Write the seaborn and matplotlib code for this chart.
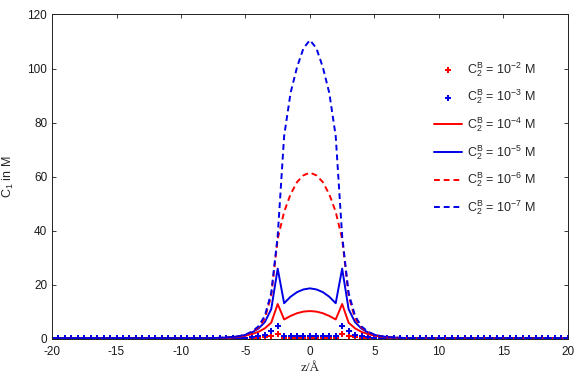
import numpy as np
import matplotlib
matplotlib.use('Agg')
import matplotlib.pyplot as plt
import seaborn as sns

# z grid in Angstrom, -20 .. 20 in steps of 0.5
z = np.arange(-20, 20.5, 0.5)

# C1 profiles (M)
c_1e2 = [0.3] * 26 + [0.3, 0.3, 0.3, 0.3, 0.3, 0.4, 0.5, 0.8, 1.2, 1.9,
                      0.3, 0.3, 0.3, 0.3, 0.3, 0.3, 0.3, 0.3, 0.3,
                      1.9, 1.2, 0.8, 0.5, 0.4, 0.3, 0.3, 0.3, 0.3, 0.3] + [0.3] * 26
c_1e3 = [0.3] * 26 + [0.3, 0.3, 0.3, 0.4, 0.5, 0.7, 1.0, 1.6, 2.8, 4.8,
                      0.9, 0.9, 0.9, 0.9, 0.9, 0.9, 0.9, 0.9, 0.9,
                      4.8, 2.8, 1.6, 1.0, 0.7, 0.5, 0.4, 0.3, 0.3, 0.3] + [0.3] * 26
c_1e4 = [0.3] * 26 + [0.35, 0.4, 0.55, 0.8, 1.2, 1.8, 2.6, 3.9, 6.0, 12.9,
                      7.2, 8.5, 9.5, 10.1, 10.3, 10.1, 9.5, 8.5, 7.2,
                      12.9, 6.0, 3.9, 2.6, 1.8, 1.2, 0.8, 0.55, 0.4, 0.35] + [0.3] * 26
c_1e5 = [0.3] * 26 + [0.4, 0.5, 0.7, 1.0, 1.5, 2.4, 3.8, 6.2, 11.0, 26.0,
                      13.2, 15.6, 17.3, 18.3, 18.7, 18.3, 17.3, 15.6, 13.2,
                      26.0, 11.0, 6.2, 3.8, 2.4, 1.5, 1.0, 0.7, 0.5, 0.4] + [0.3] * 26
c_1e6 = [0.3] * 26 + [0.35, 0.45, 0.6, 0.9, 1.4, 2.4, 4.2, 7.5, 16.0, 37.0,
                      47.0, 53.5, 58.0, 60.5, 61.5, 60.5, 58.0, 53.5, 47.0,
                      37.0, 16.0, 7.5, 4.2, 2.4, 1.4, 0.9, 0.6, 0.45, 0.35] + [0.3] * 26
c_1e7 = [0.3] * 26 + [0.4, 0.5, 0.7, 1.0, 1.6, 2.7, 4.6, 8.5, 17.0, 38.0,
                      75.0, 91.0, 100.5, 107.5, 110.5, 107.5, 100.5, 91.0, 75.0,
                      38.0, 17.0, 8.5, 4.6, 2.7, 1.6, 1.0, 0.7, 0.5, 0.4] + [0.3] * 26

labels = [r'C$_2^{\rm B}$ = 10$^{-%d}$ M' % k for k in range(2, 8)]
red = '#ff0000'
blue = '#0000e6'

sns.set_style('ticks')
plt.rcParams['font.family'] = ['Liberation Sans', 'DejaVu Sans']
plt.rcParams['mathtext.fontset'] = 'custom'
plt.rcParams['mathtext.rm'] = 'Liberation Sans'
plt.rcParams['mathtext.it'] = 'Liberation Sans:italic'
plt.rcParams['axes.unicode_minus'] = False
plt.rcParams['xtick.direction'] = 'in'
plt.rcParams['ytick.direction'] = 'in'

fig = plt.figure(figsize=(5.8, 3.9), dpi=100)
ax = fig.add_axes([0.0897, 0.131, 0.8893, 0.832])

sns.scatterplot(x=z, y=c_1e2, ax=ax, color=red, marker='P', s=20, linewidth=0, label=labels[0])
sns.scatterplot(x=z, y=c_1e3, ax=ax, color=blue, marker='P', s=20, linewidth=0, label=labels[1])
sns.lineplot(x=z, y=c_1e4, ax=ax, color=red, lw=1.4, label=labels[2])
sns.lineplot(x=z, y=c_1e5, ax=ax, color=blue, lw=1.4, label=labels[3])
sns.lineplot(x=z, y=c_1e6, ax=ax, color=red, lw=1.4, linestyle=(0, (3, 2)), label=labels[4])
sns.lineplot(x=z, y=c_1e7, ax=ax, color=blue, lw=1.4, linestyle=(0, (3, 2)), label=labels[5])

ax.set_xlim(-20, 20)
ax.set_ylim(0, 120)
ax.set_xticks(range(-20, 21, 5))
ax.set_yticks(range(0, 121, 20))
ax.tick_params(labelsize=8.5, colors='#1a1a1a', length=3, top=True, right=True, width=0.6)
ax.tick_params(axis='x', pad=5)
for s in ax.spines.values():
    s.set_visible(True)
    s.set_linewidth(0.7)
    s.set_color('#222222')

ax.set_xlabel('z/Å', family='Liberation Serif', fontsize=9.5, labelpad=3)
ax.set_ylabel(r'C$_1$ in M', fontsize=9, labelpad=8)

ax.legend(frameon=False, loc='upper left', bbox_to_anchor=(0.73, 0.875),
          fontsize=9, handlelength=2.3, handletextpad=0.35, labelspacing=0.72,
          borderaxespad=0, markerscale=1.0)

fig.savefig('out.png', dpi=100)
